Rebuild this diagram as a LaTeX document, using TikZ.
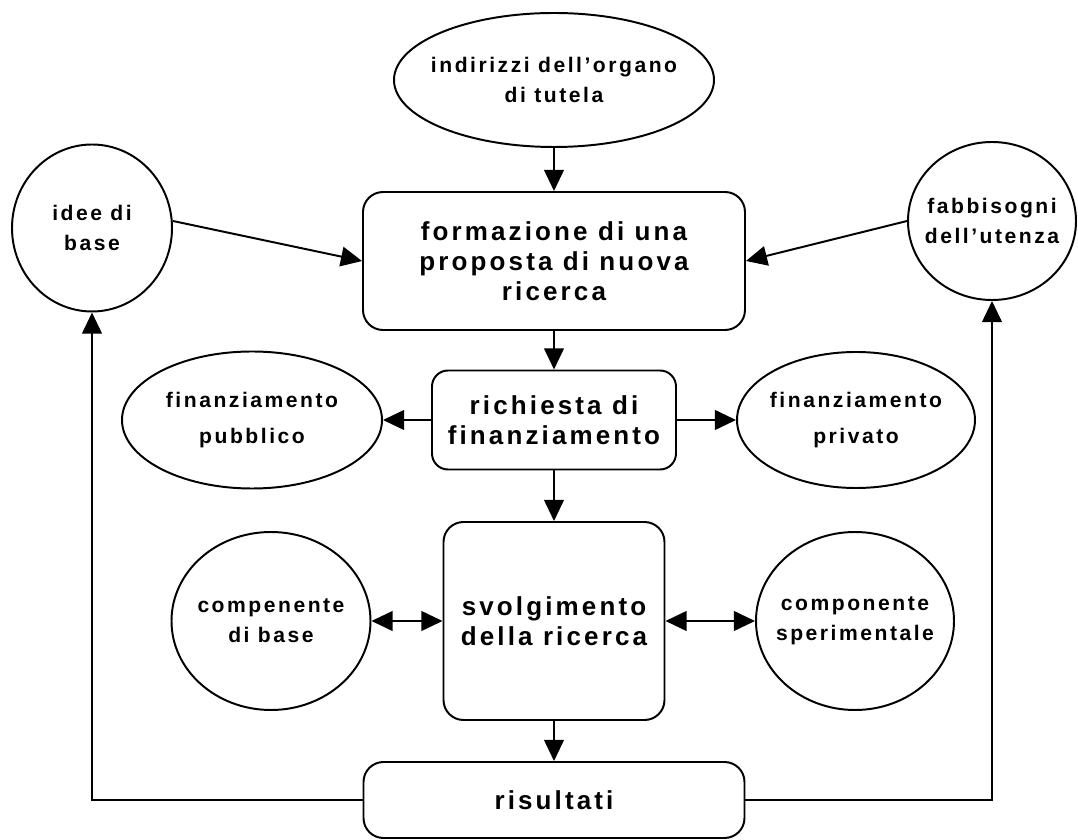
\documentclass[tikz,border=0pt]{standalone}
\usepackage{fontspec}
\usetikzlibrary{positioning,arrows.meta,shapes.geometric}
\newfontfamily\etichetta[LetterSpace=12]{Liberation Sans}

\begin{document}
\begin{tikzpicture}[line width=1.4pt,
  >={Triangle[length=15pt,width=14pt]},
  caja/.style={draw, rounded corners=0.5cm, align=center,
    font=\etichetta\bfseries\fontsize{18.5}{21.5}\selectfont},
  globo/.style={draw, ellipse, align=center, inner sep=-1cm,
    font=\etichetta\bfseries\fontsize{15}{21.5}\selectfont}]
\fill[white] (0,0) rectangle (26.95,20.975);
\useasboundingbox (0,0) rectangle (26.95,20.975);

% ================= colonna centrale =================
\node[globo, minimum width=8.0cm, minimum height=3.35cm] (tutela) at (13.85,18.975) {indirizzi dell’organo\\di tutela};
\node[caja, minimum width=9.55cm, minimum height=3.45cm] (proposta) at (13.85,14.45) {formazione di una\\proposta di nuova\\ricerca};
\node[caja, rounded corners=0.4cm, minimum width=6.1cm, minimum height=2.475cm] (richiesta) at (13.85,10.475) {richiesta di\\finanziamento};
\node[caja, minimum width=5.525cm, minimum height=4.95cm] (ricerca) at (13.85,5.45) {svolgimento\\della ricerca};
\node[caja, minimum width=9.525cm, minimum height=1.9cm] (risultati) at (13.85,0.975) {risultati};

% ================= ingressi laterali =================
\node[globo, minimum width=4.0cm, minimum height=4.175cm] (idee) at (2.3,15.275) {idee di\\base};
\node[globo, minimum width=4.2cm, minimum height=3.95cm] (utenza) at (24.8,15.45) {fabbisogni\\dell’utenza};

% ================= finanziamento =================
\node[globo, minimum width=6.5cm, minimum height=3.425cm] (pubblico) at (6.3,10.475) {finanziamento\\[4pt]pubblico};
\node[globo, minimum width=5.95cm, minimum height=3.4cm] (privato) at (21.4,10.475) {finanziamento\\[4pt]privato};

% ================= componenti =================
\node[globo, minimum width=4.975cm, minimum height=4.45cm] (base) at (6.775,5.45) {compenente\\di base};
\node[globo, minimum width=4.95cm, minimum height=4.45cm] (speriment) at (21.375,5.45) {componente\\sperimentale};

% ================= frecce =================
\draw[->] (tutela) -- (proposta);
\draw[->] (idee.5) -- (proposta.west);
\draw[->] (utenza.west) -- (proposta.east);
\draw[->] (proposta) -- (richiesta);
\draw[->] (richiesta) -- (pubblico);
\draw[->] (richiesta) -- (privato);
\draw[->] (richiesta) -- (ricerca);
\draw[<->] (ricerca) -- (base);
\draw[<->] (ricerca) -- (speriment);
\draw[->] (ricerca) -- (risultati);
% retroazione
\draw[->] (risultati.west) -| (idee.south);
\draw[->] (risultati.east) -| (utenza.south);
\end{tikzpicture}
\end{document}
